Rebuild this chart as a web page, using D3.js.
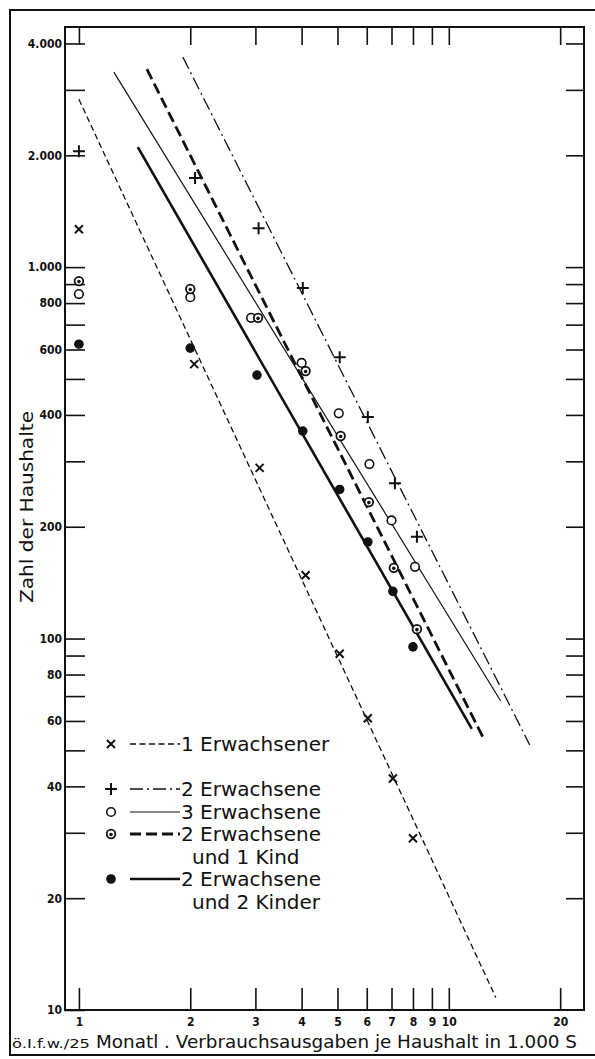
<!DOCTYPE html>
<html>
<head>
<meta charset="utf-8">
<script src="https://cdn.jsdelivr.net/npm/d3@7/dist/d3.min.js"></script>
<style>
  body { margin: 0; background: #fff; }
  svg { display: block; font-family: 'DejaVu Sans', sans-serif; }
</style>
</head>
<body>
<div class="chart"></div>
<script>
const seriesNames = ['1 Erwachsener', '2 Erwachsene', '3 Erwachsene', '2 Erwachsene|und 1 Kind', '2 Erwachsene|und 2 Kinder'];
const markerTypes = ['cross', 'plus', 'ring', 'dotring', 'dot'];

// Monatl. Verbrauchsausgaben (1.000 S) und Zahl der Haushalte je Gruppe
const ausgaben1 = [1, 2.05, 3.08, 4.1, 5.07, 6.04, 7.06, 8.0];
const haushalte1 = [1265, 548, 288, 148, 91, 61, 42, 29];
const ausgaben2 = [1, 2.06, 3.06, 4.03, 5.07, 6.04, 7.15, 8.2];
const haushalte2 = [2050, 1736, 1273, 878, 572, 395, 262, 188];
const ausgaben3 = [1, 2.0, 2.92, 4.0, 5.04, 6.1, 7.0, 8.1];
const haushalte3 = [846, 830, 730, 552, 404, 295, 208, 156];
const ausgaben4 = [1, 2.0, 3.05, 4.1, 5.1, 6.08, 7.1, 8.2];
const haushalte4 = [917, 873, 730, 525, 351, 233, 155, 106];
const ausgaben5 = [1, 2.0, 3.03, 4.03, 5.07, 6.04, 7.06, 8.0];
const haushalte5 = [620, 605, 512, 362, 252, 182, 134, 95];

// Ausgleichsgeraden: Anfangs- und Endpunkt [Ausgaben, Haushalte]
const trendFrom = [[1.0, 2830], [1.91, 3675], [1.243, 3350], [1.527, 3410], [1.443, 2104]];
const trendTo = [[13.4, 10.8], [16.55, 51.7], [13.8, 68], [12.36, 54.3], [11.54, 57.1]];

const xTicks = [1, 2, 3, 4, 5, 6, 7, 8, 9, 10, 20];
const yTicks = [4000, 3000, 2000, 1000, 900, 800, 700, 600, 500, 400, 300, 200, 100, 90, 80, 70, 60, 50, 40, 30, 20, 10];
const yLabelled = [4000, 2000, 1000, 800, 600, 400, 200, 100, 80, 60, 40, 20, 10];

const lineStyles = [
    { width: 1.3, dash: '6,3.5' },
    { width: 1.3, dash: '13,4,2,4' },
    { width: 1.2, dash: null },
    { width: 2.8, dash: '11,5' },
    { width: 2.6, dash: null }
];

const drawChart = () => {
    const width = 595, height = 1059;
    const plot = { left: 65, right: 584, top: 27, bottom: 1010 };
    const canvas = d3.select('div.chart').append('svg').attr('width', width).attr('height', height);

    const x = d3.scaleLog().domain([0.917, 23.2]).range([plot.left, plot.right]);
    const y = d3.scaleLog().domain([10, 4430]).range([plot.bottom, plot.top]);
    const fmt = d3.formatLocale({ decimal: ',', thousands: '.', grouping: [3], currency: ['', ''] }).format(',');

    // outer frame
    canvas.append('path')
        .attr('d', `M${width + 5},10 H10 V1055 H${width + 5}`)
        .attr('fill', 'none').attr('stroke', '#111').attr('stroke-width', 2);

    const styleAxis = (g, labelSize) => {
        g.select('.domain').remove();
        g.selectAll('line').attr('stroke', '#111').attr('stroke-width', 1.6);
        g.selectAll('text').attr('fill', '#111').attr('font-size', labelSize)
            .attr('font-weight', 'bold').attr('font-family', "'DejaVu Sans Condensed', 'DejaVu Sans', sans-serif");
    };

    canvas.append('g').attr('transform', `translate(${plot.left},0)`)
        .call(d3.axisLeft(y).tickValues(yTicks).tickSizeInner(-20).tickSizeOuter(0).tickPadding(3)
            .tickFormat(d => yLabelled.includes(d) ? fmt(d) : ''))
        .call(g => styleAxis(g, 12));
    canvas.append('g').attr('transform', `translate(${plot.right},0)`)
        .call(d3.axisRight(y).tickValues(yTicks.filter(d => d > 10)).tickSizeInner(-18).tickSizeOuter(0).tickFormat(''))
        .call(g => styleAxis(g, 12));
    canvas.append('g').attr('transform', `translate(0,${plot.bottom})`)
        .call(d3.axisBottom(x).tickValues(xTicks).tickSizeInner(-22).tickSizeOuter(0).tickPadding(7).tickFormat(d3.format('d')))
        .call(g => styleAxis(g, 12));
    canvas.append('g').attr('transform', `translate(0,${plot.top})`)
        .call(d3.axisTop(x).tickValues(xTicks).tickSizeInner(-18).tickSizeOuter(0).tickFormat(''))
        .call(g => styleAxis(g, 12));

    canvas.append('rect')
        .attr('x', plot.left).attr('y', plot.top)
        .attr('width', plot.right - plot.left).attr('height', plot.bottom - plot.top)
        .attr('fill', 'none').attr('stroke', '#111').attr('stroke-width', 2);

    // trend lines
    const trendGroup = canvas.append('g').classed('trend-group', true);
    trendFrom.forEach((from, i) => {
        const to = trendTo[i];
        trendGroup.append('line')
            .attr('x1', x(from[0])).attr('y1', y(from[1]))
            .attr('x2', x(to[0])).attr('y2', y(to[1]))
            .attr('stroke', '#111')
            .attr('stroke-width', lineStyles[i].width)
            .attr('stroke-dasharray', lineStyles[i].dash);
    });

    const drawMarker = (g, type, cx, cy) => {
        if (type === 'cross') {
            g.append('path').attr('d', `M${cx - 4},${cy - 4}L${cx + 4},${cy + 4}M${cx - 4},${cy + 4}L${cx + 4},${cy - 4}`)
                .attr('stroke', '#111').attr('stroke-width', 2);
        } else if (type === 'plus') {
            g.append('path').attr('d', `M${cx - 6},${cy}H${cx + 6}M${cx},${cy - 6}V${cy + 6}`)
                .attr('stroke', '#111').attr('stroke-width', 2);
        } else if (type === 'ring') {
            g.append('circle').attr('cx', cx).attr('cy', cy).attr('r', 4.3)
                .attr('fill', '#fff').attr('stroke', '#111').attr('stroke-width', 1.6);
        } else if (type === 'dotring') {
            g.append('circle').attr('cx', cx).attr('cy', cy).attr('r', 4.3)
                .attr('fill', '#fff').attr('stroke', '#111').attr('stroke-width', 1.8);
            g.append('circle').attr('cx', cx).attr('cy', cy + 0.5).attr('r', 1.8).attr('fill', '#111');
        } else {
            g.append('circle').attr('cx', cx).attr('cy', cy).attr('r', 4.8).attr('fill', '#111');
        }
    };

    const allAusgaben = [ausgaben1, ausgaben2, ausgaben3, ausgaben4, ausgaben5];
    const allHaushalte = [haushalte1, haushalte2, haushalte3, haushalte4, haushalte5];
    const pointGroup = canvas.append('g').classed('point-group', true);
    allAusgaben.forEach((xs, i) => {
        const data = xs.map((v, j) => ({ ausgaben: v, haushalte: allHaushalte[i][j] }));
        pointGroup.selectAll(`g.s${i}`)
            .data(data)
            .enter()
            .append('g')
            .classed(`s${i}`, true)
            .each(function (datum) { drawMarker(d3.select(this), markerTypes[i], x(datum.ausgaben), y(datum.haushalte)); });
    });

    // legend
    const legendRows = [744, 789, 812, 834, 879];
    const legend = canvas.append('g').classed('legend', true);
    seriesNames.forEach((name, i) => {
        const ly = legendRows[i];
        drawMarker(legend, markerTypes[i], 111, ly);
        legend.append('line')
            .attr('x1', 130).attr('x2', 180).attr('y1', ly).attr('y2', ly)
            .attr('stroke', '#111')
            .attr('stroke-width', lineStyles[i].width)
            .attr('stroke-dasharray', lineStyles[i].dash);
        name.split('|').forEach((part, k) => {
            legend.append('text')
                .attr('x', k === 0 ? 181 : 192).attr('y', ly + 7 + k * 23)
                .attr('font-size', 20).attr('fill', '#111')
                .text(part);
        });
    });

    // axis titles
    canvas.append('text')
        .attr('transform', 'translate(33,603) rotate(-90)')
        .attr('font-size', 18).attr('fill', '#111')
        .attr('textLength', 192).attr('lengthAdjust', 'spacingAndGlyphs')
        .text('Zahl der Haushalte');
    canvas.append('text')
        .attr('x', 12).attr('y', 1048)
        .attr('font-size', 12).attr('fill', '#111')
        .attr('textLength', 78).attr('lengthAdjust', 'spacingAndGlyphs')
        .text('ö.I.f.w./25');
    canvas.append('text')
        .attr('x', 96).attr('y', 1048)
        .attr('font-size', 17).attr('fill', '#111')
        .attr('textLength', 481).attr('lengthAdjust', 'spacingAndGlyphs')
        .text('Monatl . Verbrauchsausgaben je Haushalt in 1.000 S');
};

drawChart();
</script>
</body>
</html>
